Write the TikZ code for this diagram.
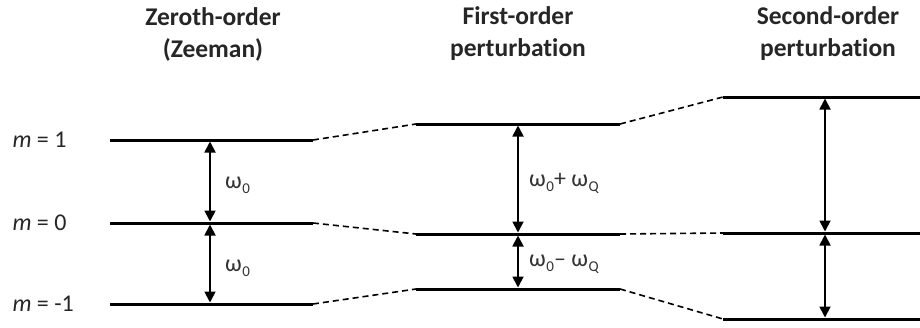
\documentclass[tikz,border=0pt]{standalone}
\usepackage{fontspec}
\setmainfont{Carlito}[Ligatures=NoCommon]
\usetikzlibrary{arrows.meta}
\newcommand{\subs}[1]{\kern0.5pt\raisebox{-5pt}{\fontsize{15}{15}\selectfont #1}}
\begin{document}
\begin{tikzpicture}[x=1pt,y=-1pt,
  level/.style={line width=3pt},
  link/.style={line width=1.6pt,dash pattern=on 6pt off 4pt},
  gap/.style={line width=1.8pt,{Triangle[width=11pt,length=11pt]}-{Triangle[width=11pt,length=11pt]},shorten <=1.5pt,shorten >=1.5pt},
  title/.style={font=\bfseries\fontsize{25.5}{32}\selectfont,align=center,text=black!85},
  mlab/.style={font=\fontsize{24}{26}\selectfont,anchor=west,text=black!85},
  wlab/.style={font=\fontsize{24}{26}\selectfont,anchor=west,text=black!80,inner sep=0pt}]
\useasboundingbox (0,0) rectangle (920,327);
% titles
\node[title] (t0) at (213,34) {Zeroth-order\\(Zeeman)};
\node[title] (t1) at (518,34) {First-order\\perturbation};
\node[title] (t2) at (828,34) {Second-order\\perturbation};
% zeroth-order levels
\coordinate (a1l) at (110,140); \coordinate (a1r) at (313,140);
\coordinate (a0l) at (110,223); \coordinate (a0r) at (313,223);
\coordinate (aml) at (110,304); \coordinate (amr) at (313,304);
% first-order levels
\coordinate (b1l) at (416,124); \coordinate (b1r) at (620,124);
\coordinate (b0l) at (416,234); \coordinate (b0r) at (620,234);
\coordinate (bml) at (416,289); \coordinate (bmr) at (620,289);
% second-order levels
\coordinate (c1l) at (723,97);  \coordinate (c1r) at (920,97);
\coordinate (c0l) at (723,233); \coordinate (c0r) at (920,233);
\coordinate (cml) at (723,319); \coordinate (cmr) at (920,319);
\foreach \p in {a1,a0,am,b1,b0,bm,c1,c0,cm}{\draw[level] (\p l) -- (\p r);}
% dashed links
\draw[link] (a1r) -- (b1l); \draw[link] (a0r) -- (b0l); \draw[link] (amr) -- (bml);
\draw[link] (b1r) -- (c1l); \draw[link] (b0r) -- (c0l); \draw[link] (bmr) -- (cml);
% m labels
\node[mlab] (m1) at (9,140) {\textit{m} = 1};
\node[mlab] (m0) at (9,223) {\textit{m} = 0};
\node[mlab] (mm) at (9,304) {\textit{m} = -1};
% arrows
\coordinate (pa1) at (210,140); \coordinate (pa0) at (210,223); \coordinate (pam) at (210,304);
\coordinate (pb1) at (518,124); \coordinate (pb0) at (518,234); \coordinate (pbm) at (518,289);
\coordinate (pc1) at (825,97);  \coordinate (pc0) at (825,233); \coordinate (pcm) at (825,319);
\draw[gap] (pa1) -- (pa0); \draw[gap] (pa0) -- (pam);
\draw[gap] (pb1) -- (pb0); \draw[gap] (pb0) -- (pbm);
\draw[gap] (pc1) -- (pc0); \draw[gap] (pc0) -- (pcm);
% omega labels
\node[wlab] (w1) at (225,185) {ω\subs{0}};
\node[wlab] (w2) at (225,268) {ω\subs{0}};
\node[wlab] (w3) at (529,183) {ω\subs{0}+ ω\subs{Q}};
\node[wlab] (w4) at (529,264) {ω\subs{0}– ω\subs{Q}};
\end{tikzpicture}
\end{document}
